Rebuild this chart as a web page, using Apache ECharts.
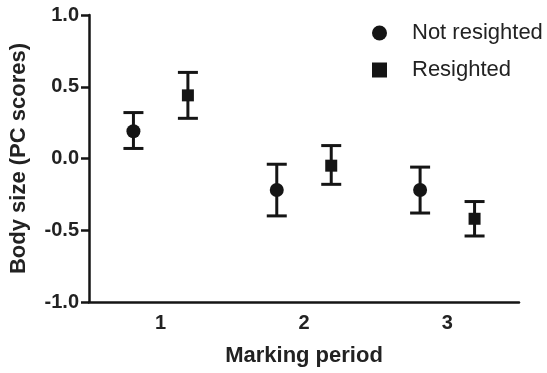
<!DOCTYPE html>
<html>
<head>
<meta charset="utf-8">
<script src="https://cdn.jsdelivr.net/npm/echarts@6/dist/echarts.min.js"></script>
<style>
  html, body { margin: 0; padding: 0; background: #fff; }
  #main { width: 547px; height: 373px; }
</style>
</head>
<body>
<div id="main"></div>
<script>
// marking periods
let periods = ['1', '2', '3'];
// not resighted: mean, lower, upper
let notMean  = [0.19, -0.22, -0.22];
let notLow   = [0.07, -0.40, -0.38];
let notHigh  = [0.32, -0.04, -0.06];
// resighted: mean, lower, upper
let resMean  = [0.44, -0.05, -0.42];
let resLow   = [0.28, -0.18, -0.54];
let resHigh  = [0.60, 0.09, -0.30];

let ink = '#151515';
let font = 'Liberation Sans, Arial, sans-serif';

function buildData(mean, low, high) {
  let out = [];
  for (let i = 0; i < periods.length; i++) {
    out.push([i, mean[i], low[i], high[i]]);
  }
  return out;
}

function makeRender(shift, shape) {
  return function(params, api) {
    let idx = api.value(0);
    let c = api.coord([idx, api.value(1)]);
    let band = api.size([1, 0])[0];
    let x = c[0] + shift * band;
    let yLo = api.coord([idx, api.value(2)])[1];
    let yHi = api.coord([idx, api.value(3)])[1];
    let cap = 10;
    let st = { stroke: ink, lineWidth: 3 };
    let marker;
    if (shape == 'circle') {
      marker = { type: 'circle', shape: { cx: x, cy: c[1], r: 7 }, style: { fill: ink } };
    } else {
      marker = { type: 'rect', shape: { x: x - 6, y: c[1] - 6, width: 12, height: 12 }, style: { fill: ink } };
    }
    return {
      type: 'group',
      children: [
        { type: 'line', shape: { x1: x, y1: yLo, x2: x, y2: yHi }, style: st },
        { type: 'line', shape: { x1: x - cap, y1: yLo, x2: x + cap, y2: yLo }, style: st },
        { type: 'line', shape: { x1: x - cap, y1: yHi, x2: x + cap, y2: yHi }, style: st },
        marker
      ]
    };
  };
}

let myChart = echarts.init(document.getElementById('main'));
let option = {
  animation: false,
  grid: { left: 89, right: 28, top: 15, bottom: 71 },
  legend: {
    orient: 'vertical',
    left: 367,
    top: 17,
    itemWidth: 15,
    itemHeight: 15,
    itemGap: 15,
    textStyle: { fontSize: 22, color: '#222', fontFamily: font, padding: [0, 0, 0, 20] },
    data: [
      { name: 'Not resighted', icon: 'circle', itemStyle: { color: ink } },
      { name: 'Resighted', icon: 'rect', itemStyle: { color: ink } }
    ]
  },
  xAxis: {
    type: 'category',
    data: periods,
    boundaryGap: true,
    name: 'Marking period',
    nameLocation: 'middle',
    nameGap: 43,
    nameTextStyle: { fontSize: 22, fontWeight: 'bold', color: '#222', fontFamily: font },
    axisLine: { onZero: false, lineStyle: { color: ink, width: 2.5 } },
    axisTick: { alignWithLabel: true, length: 7, lineStyle: { color: ink, width: 2.5 } },
    axisLabel: { fontSize: 20, fontWeight: 'bold', color: '#222', margin: 11, fontFamily: font },
    splitLine: { show: false }
  },
  yAxis: {
    type: 'value',
    min: -1,
    max: 1,
    interval: 0.5,
    name: 'Body size (PC scores)',
    nameLocation: 'middle',
    nameGap: 59,
    nameTextStyle: { fontSize: 22, fontWeight: 'bold', color: '#222', fontFamily: font },
    axisLine: { show: true, lineStyle: { color: ink, width: 2.5 } },
    axisTick: { show: true, length: 8, lineStyle: { color: ink, width: 2.5 } },
    axisLabel: {
      fontSize: 20, fontWeight: 'bold', color: '#222', margin: 10,
      fontFamily: font,
      formatter: function(v) { return v.toFixed(1); }
    },
    splitLine: { show: false }
  },
  series: [
    {
      name: 'Not resighted',
      type: 'custom',
      itemStyle: { color: ink },
      renderItem: makeRender(-0.19, 'circle'),
      data: buildData(notMean, notLow, notHigh)
    },
    {
      name: 'Resighted',
      type: 'custom',
      itemStyle: { color: ink },
      renderItem: makeRender(0.19, 'rect'),
      data: buildData(resMean, resLow, resHigh)
    }
  ]
};
myChart.setOption(option);
</script>
</body>
</html>
